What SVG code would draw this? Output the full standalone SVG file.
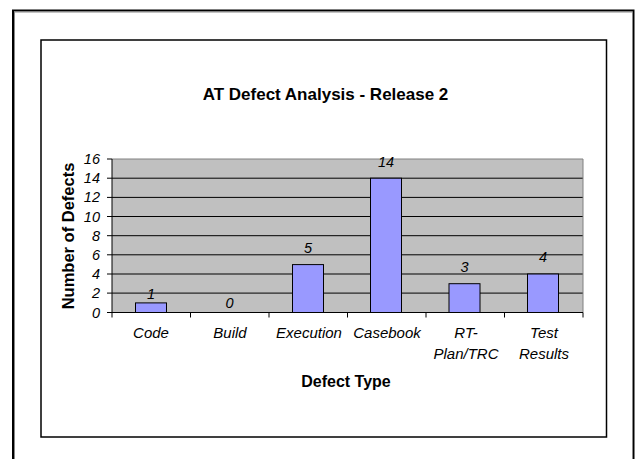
<svg xmlns="http://www.w3.org/2000/svg" width="635" height="459" viewBox="0 0 635 459">
  <style>
    .frame { fill: none; stroke: #000; }
    .grid { stroke: #000; stroke-width: 1; }
    .bar { fill: #9999FF; stroke: #000; stroke-width: 1; }
    .tick { stroke: #000; stroke-width: 1; }
    .lbl { font-family: "Liberation Sans", Arial, sans-serif; font-style: italic; font-size: 14.5px; fill: #000; }
    .cat { font-family: "Liberation Sans", Arial, sans-serif; font-style: italic; font-size: 15px; fill: #000; text-anchor: middle; }
    .ttl { font-family: "Liberation Sans", Arial, sans-serif; font-weight: bold; fill: #000; text-anchor: middle; }
  </style>
  <rect width="635" height="459" fill="#fff"/>

  <!-- page and chart borders -->
  <g id="page-frame">
    <rect x="13" y="10.5" width="620.5" height="460" fill="none" stroke="#000" stroke-width="2"/>
    <rect x="14.5" y="12" width="618" height="460" fill="none" stroke="#888" stroke-width="1"/>
  </g>
  <g id="chart-frame">
    <rect class="frame" x="41" y="40" width="565.5" height="397" stroke-width="1.5"/>
  </g>

  <g id="title">
    <text class="ttl" x="325.5" y="100" font-size="17">AT Defect Analysis - Release 2</text>
  </g>

  <!-- plot area -->
  <g id="plot-area">
    <rect x="112" y="159" width="471" height="153.5" fill="#C0C0C0"/>
    <g class="grid">
      <line x1="112" y1="178.2" x2="583" y2="178.2"/>
      <line x1="112" y1="197.4" x2="583" y2="197.4"/>
      <line x1="112" y1="216.5" x2="583" y2="216.5"/>
      <line x1="112" y1="235.7" x2="583" y2="235.7"/>
      <line x1="112" y1="254.8" x2="583" y2="254.8"/>
      <line x1="112" y1="274" x2="583" y2="274"/>
      <line x1="112" y1="293.1" x2="583" y2="293.1"/>
    </g>
    <polyline points="112,159 583,159 583,312.5" fill="none" stroke="#808080" stroke-width="1"/>
  </g>

  <!-- bars -->
  <g id="bar-code"><rect class="bar" x="135.5" y="302.9" width="31" height="9.6"/><text class="lbl" x="151" y="299" text-anchor="middle">1</text></g>
  <g id="bar-build"><text class="lbl" x="229.5" y="308" text-anchor="middle">0</text></g>
  <g id="bar-execution"><rect class="bar" x="292.5" y="264.6" width="31" height="47.9"/><text class="lbl" x="308" y="253" text-anchor="middle">5</text></g>
  <g id="bar-casebook"><rect class="bar" x="370.5" y="178.2" width="31" height="134.3"/><text class="lbl" x="386" y="167" text-anchor="middle">14</text></g>
  <g id="bar-rtplan"><rect class="bar" x="449" y="283.7" width="31" height="28.8"/><text class="lbl" x="464.5" y="272" text-anchor="middle">3</text></g>
  <g id="bar-test"><rect class="bar" x="527.5" y="274" width="31" height="38.5"/><text class="lbl" x="543" y="262" text-anchor="middle">4</text></g>

  <!-- axes -->
  <g id="axes" class="tick">
    <line x1="112" y1="159" x2="112" y2="312.5"/>
    <line x1="107" y1="312.5" x2="583" y2="312.5"/>
    <line x1="107" y1="159" x2="112" y2="159"/>
    <line x1="107" y1="178.2" x2="112" y2="178.2"/>
    <line x1="107" y1="197.4" x2="112" y2="197.4"/>
    <line x1="107" y1="216.5" x2="112" y2="216.5"/>
    <line x1="107" y1="235.7" x2="112" y2="235.7"/>
    <line x1="107" y1="254.8" x2="112" y2="254.8"/>
    <line x1="107" y1="274" x2="112" y2="274"/>
    <line x1="107" y1="293.1" x2="112" y2="293.1"/>
    <line x1="112" y1="312.5" x2="112" y2="317.5"/>
    <line x1="190.5" y1="312.5" x2="190.5" y2="317.5"/>
    <line x1="269" y1="312.5" x2="269" y2="317.5"/>
    <line x1="347.5" y1="312.5" x2="347.5" y2="317.5"/>
    <line x1="426" y1="312.5" x2="426" y2="317.5"/>
    <line x1="504.5" y1="312.5" x2="504.5" y2="317.5"/>
    <line x1="583" y1="312.5" x2="583" y2="317.5"/>
  </g>

  <g id="y-labels" class="lbl" text-anchor="end">
    <text x="100" y="164">16</text>
    <text x="100" y="183.2">14</text>
    <text x="100" y="202.4">12</text>
    <text x="100" y="221.5">10</text>
    <text x="100" y="240.7">8</text>
    <text x="100" y="259.8">6</text>
    <text x="100" y="279">4</text>
    <text x="100" y="298.1">2</text>
    <text x="100" y="317.5">0</text>
  </g>

  <g id="x-labels">
    <text class="cat" x="151" y="338">Code</text>
    <text class="cat" x="230" y="338">Build</text>
    <text class="cat" x="309" y="338">Execution</text>
    <text class="cat" x="387" y="338">Casebook</text>
    <text class="cat" x="466" y="338">RT-</text>
    <text class="cat" x="466" y="359">Plan/TRC</text>
    <text class="cat" x="544" y="338">Test</text>
    <text class="cat" x="544" y="359">Results</text>
  </g>

  <g id="axis-titles">
    <text class="ttl" x="346" y="387" font-size="16">Defect Type</text>
    <text class="ttl" transform="translate(74 236) rotate(-90)" font-size="16.5">Number of Defects</text>
  </g>
</svg>
